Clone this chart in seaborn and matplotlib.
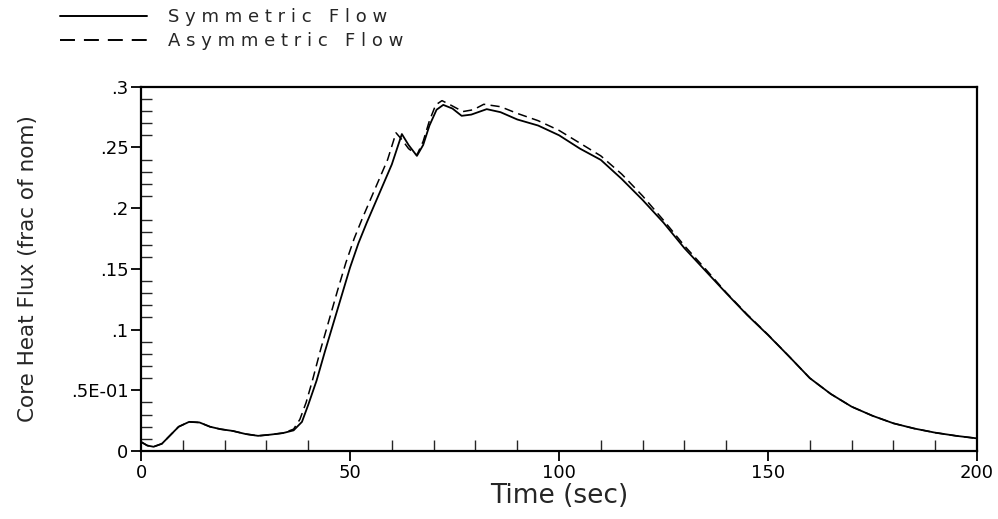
import numpy as np
import pandas as pd
import matplotlib
matplotlib.use("Agg")
import matplotlib.pyplot as plt
from matplotlib.lines import Line2D
from matplotlib.ticker import MultipleLocator, FixedLocator
import seaborn as sns

# values
time_sym = [0, 1.5, 3, 5, 7, 9, 11.5, 14, 16.5, 19, 22, 25, 28, 31, 34, 36.5,
            38.5, 40, 42, 44, 46, 48, 50, 52, 54, 56, 58, 60, 62.4, 64, 66,
            67.5, 69, 70.7, 72.3, 74.5, 76.7, 79, 82.7, 86, 90, 95, 100, 105,
            110, 115, 120, 125, 130, 135, 140, 145, 150, 155, 160, 165, 170,
            175, 180, 185, 190, 195, 200]
flux_sym = [0.0075, 0.0045, 0.0035, 0.006, 0.013, 0.020, 0.024, 0.0235, 0.020,
            0.018, 0.0165, 0.014, 0.0125, 0.0135, 0.0148, 0.017,
            0.024, 0.038, 0.058, 0.082, 0.105, 0.128, 0.151, 0.171, 0.188,
            0.204, 0.220, 0.236, 0.261, 0.252, 0.243,
            0.252, 0.268, 0.281, 0.285, 0.282, 0.276, 0.277, 0.2815, 0.279,
            0.273, 0.268, 0.260, 0.249,
            0.2397, 0.224, 0.2067, 0.188, 0.167, 0.1485, 0.130, 0.112, 0.0955,
            0.078, 0.060, 0.047, 0.0365,
            0.029, 0.0228, 0.0185, 0.0151, 0.0125, 0.0104]

time_asym = [0, 1.5, 3, 5, 7, 9, 11.5, 14, 16.5, 19, 22, 25, 28, 31, 34, 36.5,
             38, 39.5, 41, 43, 45, 47, 49, 51, 53, 55, 57, 59, 61, 62.5, 64, 66,
             67.5, 69, 70.5, 72, 74, 77, 79.5, 82, 86, 90, 95, 100, 105, 110,
             115, 120, 125, 130, 135, 140, 145, 150, 155, 160, 165, 170, 175,
             180, 185, 190, 195, 200]
flux_asym = [0.0075, 0.0045, 0.0035, 0.006, 0.013, 0.020, 0.024, 0.0235, 0.020,
             0.018, 0.0165, 0.014, 0.0125, 0.0135, 0.0148, 0.018,
             0.026, 0.040, 0.058, 0.084, 0.108, 0.132, 0.155, 0.175, 0.192,
             0.208, 0.224, 0.240, 0.262, 0.256, 0.249, 0.2437,
             0.255, 0.272, 0.285, 0.2885, 0.285, 0.2795, 0.281, 0.2855, 0.2835,
             0.278, 0.272, 0.264, 0.2535, 0.243,
             0.228, 0.210, 0.190, 0.169, 0.150, 0.1305, 0.1125, 0.0958, 0.078,
             0.060, 0.047, 0.0365, 0.029,
             0.0228, 0.0185, 0.0151, 0.0125, 0.0104]

series_labels = ["S y m m e t r i c   F l o w", "A s y m m e t r i c   F l o w"]
y_ticks = [0, 0.05, 0.1, 0.15, 0.2, 0.25, 0.3]
y_ticklabels = ["0", ".5E-01", ".1", ".15", ".2", ".25", ".3"]
x_ticks = [0, 50, 100, 150, 200]

sns.set_style("ticks")
plt.rcParams["font.family"] = ["DejaVu Sans"]

df_sym = pd.DataFrame({"time": time_sym, "flux": flux_sym})
df_asym = pd.DataFrame({"time": time_asym, "flux": flux_asym})

fig = plt.figure(figsize=(9.98, 5.19), dpi=100)
ax = fig.add_axes([0.1413, 0.131, 0.8377, 0.702])

sns.lineplot(data=df_sym, x="time", y="flux", ax=ax, color="black",
             linewidth=1.3, sort=False)
sns.lineplot(data=df_asym, x="time", y="flux", ax=ax, color="black",
             linewidth=1.1, sort=False, dashes=False, linestyle=(0, (6, 3.5)))

ax.set_xlim(0, 200)
ax.set_ylim(0, 0.3)
ax.xaxis.set_major_locator(FixedLocator(x_ticks))
ax.xaxis.set_minor_locator(MultipleLocator(10))
ax.yaxis.set_major_locator(FixedLocator(y_ticks))
ax.yaxis.set_minor_locator(MultipleLocator(0.01))
ax.set_xticklabels([str(v) for v in x_ticks])
ax.set_yticklabels(y_ticklabels)
ax.tick_params(which="major", direction="out", length=7, width=1.3,
               labelsize=13, colors="black", pad=2)
ax.tick_params(which="minor", direction="in", length=8, width=1.0)
ax.tick_params(top=False, right=False, which="both")
for side in ["left", "bottom", "top", "right"]:
    ax.spines[side].set_linewidth(1.6)
    ax.spines[side].set_color("black")

ax.set_xlabel("Time (sec)", fontsize=19, labelpad=1)
ax.set_ylabel("Core Heat Flux (frac of nom)", fontsize=15.5, labelpad=24)

handles = [Line2D([], [], color="black", linewidth=1.4),
           Line2D([], [], color="black", linewidth=1.4, linestyle=(0, (7.7, 4.6)))]
fig.legend(handles, series_labels, loc="upper left",
           bbox_to_anchor=(0.06, 0.984), frameon=False, fontsize=13,
           handlelength=4.85, handletextpad=1.15, labelspacing=0.33,
           borderpad=0, borderaxespad=0)

fig.savefig("out.png", dpi=100)
